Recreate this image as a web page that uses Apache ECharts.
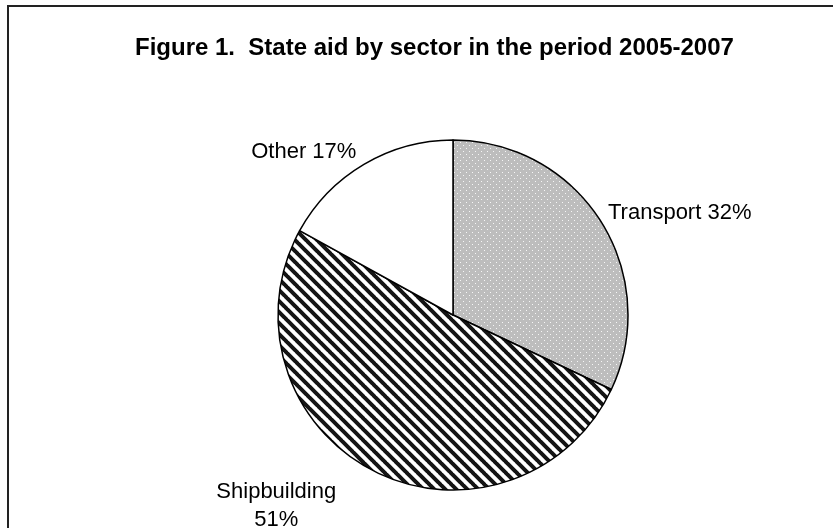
<!DOCTYPE html>
<html>
<head>
<meta charset="utf-8">
<script src="https://cdn.jsdelivr.net/npm/echarts@6/dist/echarts.min.js"></script>
<style>
html,body{margin:0;padding:0;background:#fff;}
#chart{width:833px;height:528px;}
</style>
</head>
<body>
<div id="chart"></div>
<script>
var titleText = 'Figure 1.  State aid by sector in the period 2005-2007';
var categories = ['Transport', 'Shipbuilding', 'Other'];
var values = [32, 51, 17];
var labelTexts = ['Transport 32%', 'Shipbuilding\n51%', 'Other 17%'];

function dotPattern() {
  var c = document.createElement('canvas');
  c.width = 6; c.height = 6;
  var g = c.getContext('2d');
  g.fillStyle = '#bdbdbd';
  g.fillRect(0, 0, 6, 6);
  g.fillStyle = '#f6f6f6';
  g.fillRect(1, 1, 1, 1);
  g.fillRect(4, 4, 1, 1);
  return c;
}
function stripePattern() {
  var s = 11;
  var c = document.createElement('canvas');
  c.width = s; c.height = s;
  var g = c.getContext('2d');
  g.fillStyle = '#ffffff';
  g.fillRect(0, 0, s, s);
  g.strokeStyle = '#151515';
  g.lineWidth = 4;
  g.beginPath();
  for (var k = -1; k <= 1; k++) {
    g.moveTo(k * s - 1, -1);
    g.lineTo(k * s + s + 1, s + 1);
  }
  g.stroke();
  return c;
}

var fills = [
  {image: dotPattern(), repeat: 'repeat'},
  {image: stripePattern(), repeat: 'repeat'},
  '#ffffff'
];
var labelAdjust = [
  {dx: -2, dy: -6, align: 'left'},
  {dx: -90, dy: 31, align: 'center'},
  {dx: 0, dy: -8, align: 'right'}
];

var chart = echarts.init(document.getElementById('chart'), null, {renderer: 'canvas'});
chart.setOption({
  backgroundColor: '#ffffff',
  animation: false,
  title: {
    text: titleText,
    left: 130,
    top: 31,
    textStyle: {
      fontFamily: 'Liberation Sans, Arial, sans-serif',
      fontWeight: 'bold',
      fontSize: 24,
      color: '#000'
    }
  },
  graphic: [{
    type: 'rect',
    shape: {x: 8, y: 6, width: 900, height: 600},
    style: {fill: 'none', stroke: '#222', lineWidth: 2},
    silent: true,
    z: -1
  }],
  series: [{
    type: 'pie',
    center: [453, 315],
    radius: 175,
    startAngle: 90,
    clockwise: true,
    avoidLabelOverlap: false,
    itemStyle: {borderColor: '#000', borderWidth: 1.5},
    emphasis: {disabled: true},
    label: {
      show: true,
      position: 'outside',
      fontFamily: 'Liberation Sans, Arial, sans-serif',
      fontSize: 22,
      color: '#000',
      lineHeight: 28,
      formatter: function (p) { return labelTexts[p.dataIndex]; }
    },
    labelLine: {show: false, length: 5, length2: 0},
    labelLayout: function (p) { return labelAdjust[p.dataIndex]; },
    data: categories.map(function (c, i) {
      return {name: c, value: values[i], itemStyle: {color: fills[i]}};
    })
  }]
});
</script>
</body>
</html>
